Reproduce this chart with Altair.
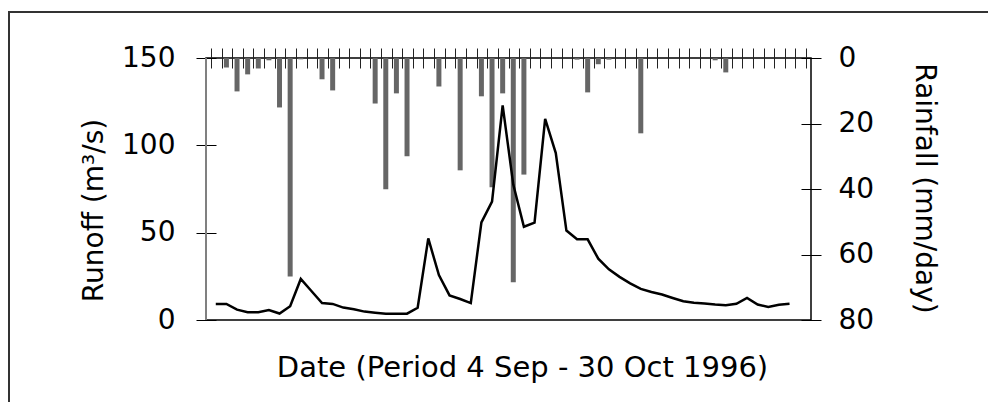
import altair as alt
import pandas as pd

# 56 daily intervals, 4 Sep - 30 Oct 1996
days = list(range(56))

rain = [0, 2.9, 10.2, 5.0, 3.2, 0.7, 15.1, 66.7, 0.4, 0,
        6.5, 9.9, 0, 0, 0, 13.9, 40.1, 10.8, 30.0, 0,
        0, 8.7, 0, 34.3, 0, 11.7, 39.5, 10.8, 68.5, 35.6,
        0, 0, 0, 0, 0.5, 10.5, 1.9, 0.5, 0, 0,
        23.0, 0, 0, 0, 0, 0, 0, 0.7, 4.4, 0,
        0, 0, 0, 0, 0, 0]

runoff = [9.2, 9.2, 5.9, 4.5, 4.5, 5.7, 3.7, 7.9, 23.5, 16.6,
          9.7, 9.2, 7.1, 6.1, 4.8, 4.2, 3.6, 3.6, 3.6, 7.0,
          46.7, 25.7, 14.1, 12.0, 9.7, 55.9, 67.8, 122.9, 77.5, 53.4,
          55.7, 115.2, 95.6, 51.2, 46.2, 46.2, 35.1, 29.0, 24.7, 21.0,
          17.8, 16.0, 14.6, 12.6, 10.7, 9.9, 9.5, 8.9, 8.5, 9.3,
          12.6, 8.9, 7.5, 8.7, 9.3, None]

tick_values = list(range(57))
runoff_ticks = [0, 50, 100, 150]
rain_ticks = [0, 20, 40, 60, 80]

df = pd.DataFrame({"day": days, "rain": rain, "runoff": runoff})

W, H = 605, 262
FONT = "DejaVu Sans"

xscale = alt.Scale(domain=[0, 56], nice=False, zero=False)

base = alt.Chart(df).transform_calculate(xc="datum.day + 0.45")

frame = alt.Chart(pd.DataFrame({"a": [0]})).mark_rect(
    filled=False, color="#333333", strokeWidth=2, clip=False
).encode(
    x=alt.value(-197), y=alt.value(-46), x2=alt.value(800), y2=alt.value(360)
)

bars = base.mark_bar(size=5, color="#666666").encode(
    x=alt.X("xc:Q", scale=xscale,
            axis=alt.Axis(orient="top", values=tick_values, labels=False,
                          domain=False, ticks=True, tickSize=20, offset=-10,
                          tickColor="#222222", tickWidth=1, grid=False,
                          title=None)),
    y=alt.Y("rain:Q", scale=alt.Scale(domain=[0, 80], reverse=True, nice=False),
            axis=alt.Axis(orient="right", values=rain_ticks, offset=-10,
                          tickSize=20, tickColor="black", domain=False,
                          labelPadding=17, grid=False,
                          title="Rainfall (mm/day)", titlePadding=36,
                          titleY=130)),
)

line = base.transform_filter("isValid(datum.runoff)").mark_line(
    color="black", strokeWidth=2.5
).encode(
    x=alt.X("xc:Q", scale=xscale,
            axis=alt.Axis(orient="bottom", labels=False, ticks=False,
                          domain=False, grid=False,
                          title="Date (Period 4 Sep - 30 Oct 1996)",
                          titleFontSize=29,
                          titlePadding=33, titleX=316)),
    y=alt.Y("runoff:Q", scale=alt.Scale(domain=[0, 150], nice=False),
            axis=alt.Axis(orient="left", values=runoff_ticks, offset=-10,
                          tickSize=20, tickColor="black", domain=False,
                          labelPadding=21, grid=False,
                          title="Runoff (m³/s)", titlePadding=13,
                          titleY=152)),
)

left_rule = alt.Chart(pd.DataFrame({"a": [0]})).mark_rule(
    color="#808080", strokeWidth=2
).encode(x=alt.value(0), y=alt.value(0), y2=alt.value(H))

chart = alt.layer(frame, bars, line, left_rule).resolve_scale(
    y="independent"
).resolve_axis(
    x="independent", y="independent"
).properties(
    width=W, height=H,
    autosize=alt.AutoSizeParams(type="none"),
    padding={"left": 198, "top": 50, "right": 177, "bottom": 82},
    background="white",
).configure_view(
    stroke="black", strokeWidth=1.5
).configure_axis(
    labelFont=FONT, titleFont=FONT, labelFontSize=28, titleFontSize=28,
    labelColor="black", titleColor="black", titleFontWeight="normal",
)

chart.save("out.html", embed_options={"renderer": "svg", "actions": False})
